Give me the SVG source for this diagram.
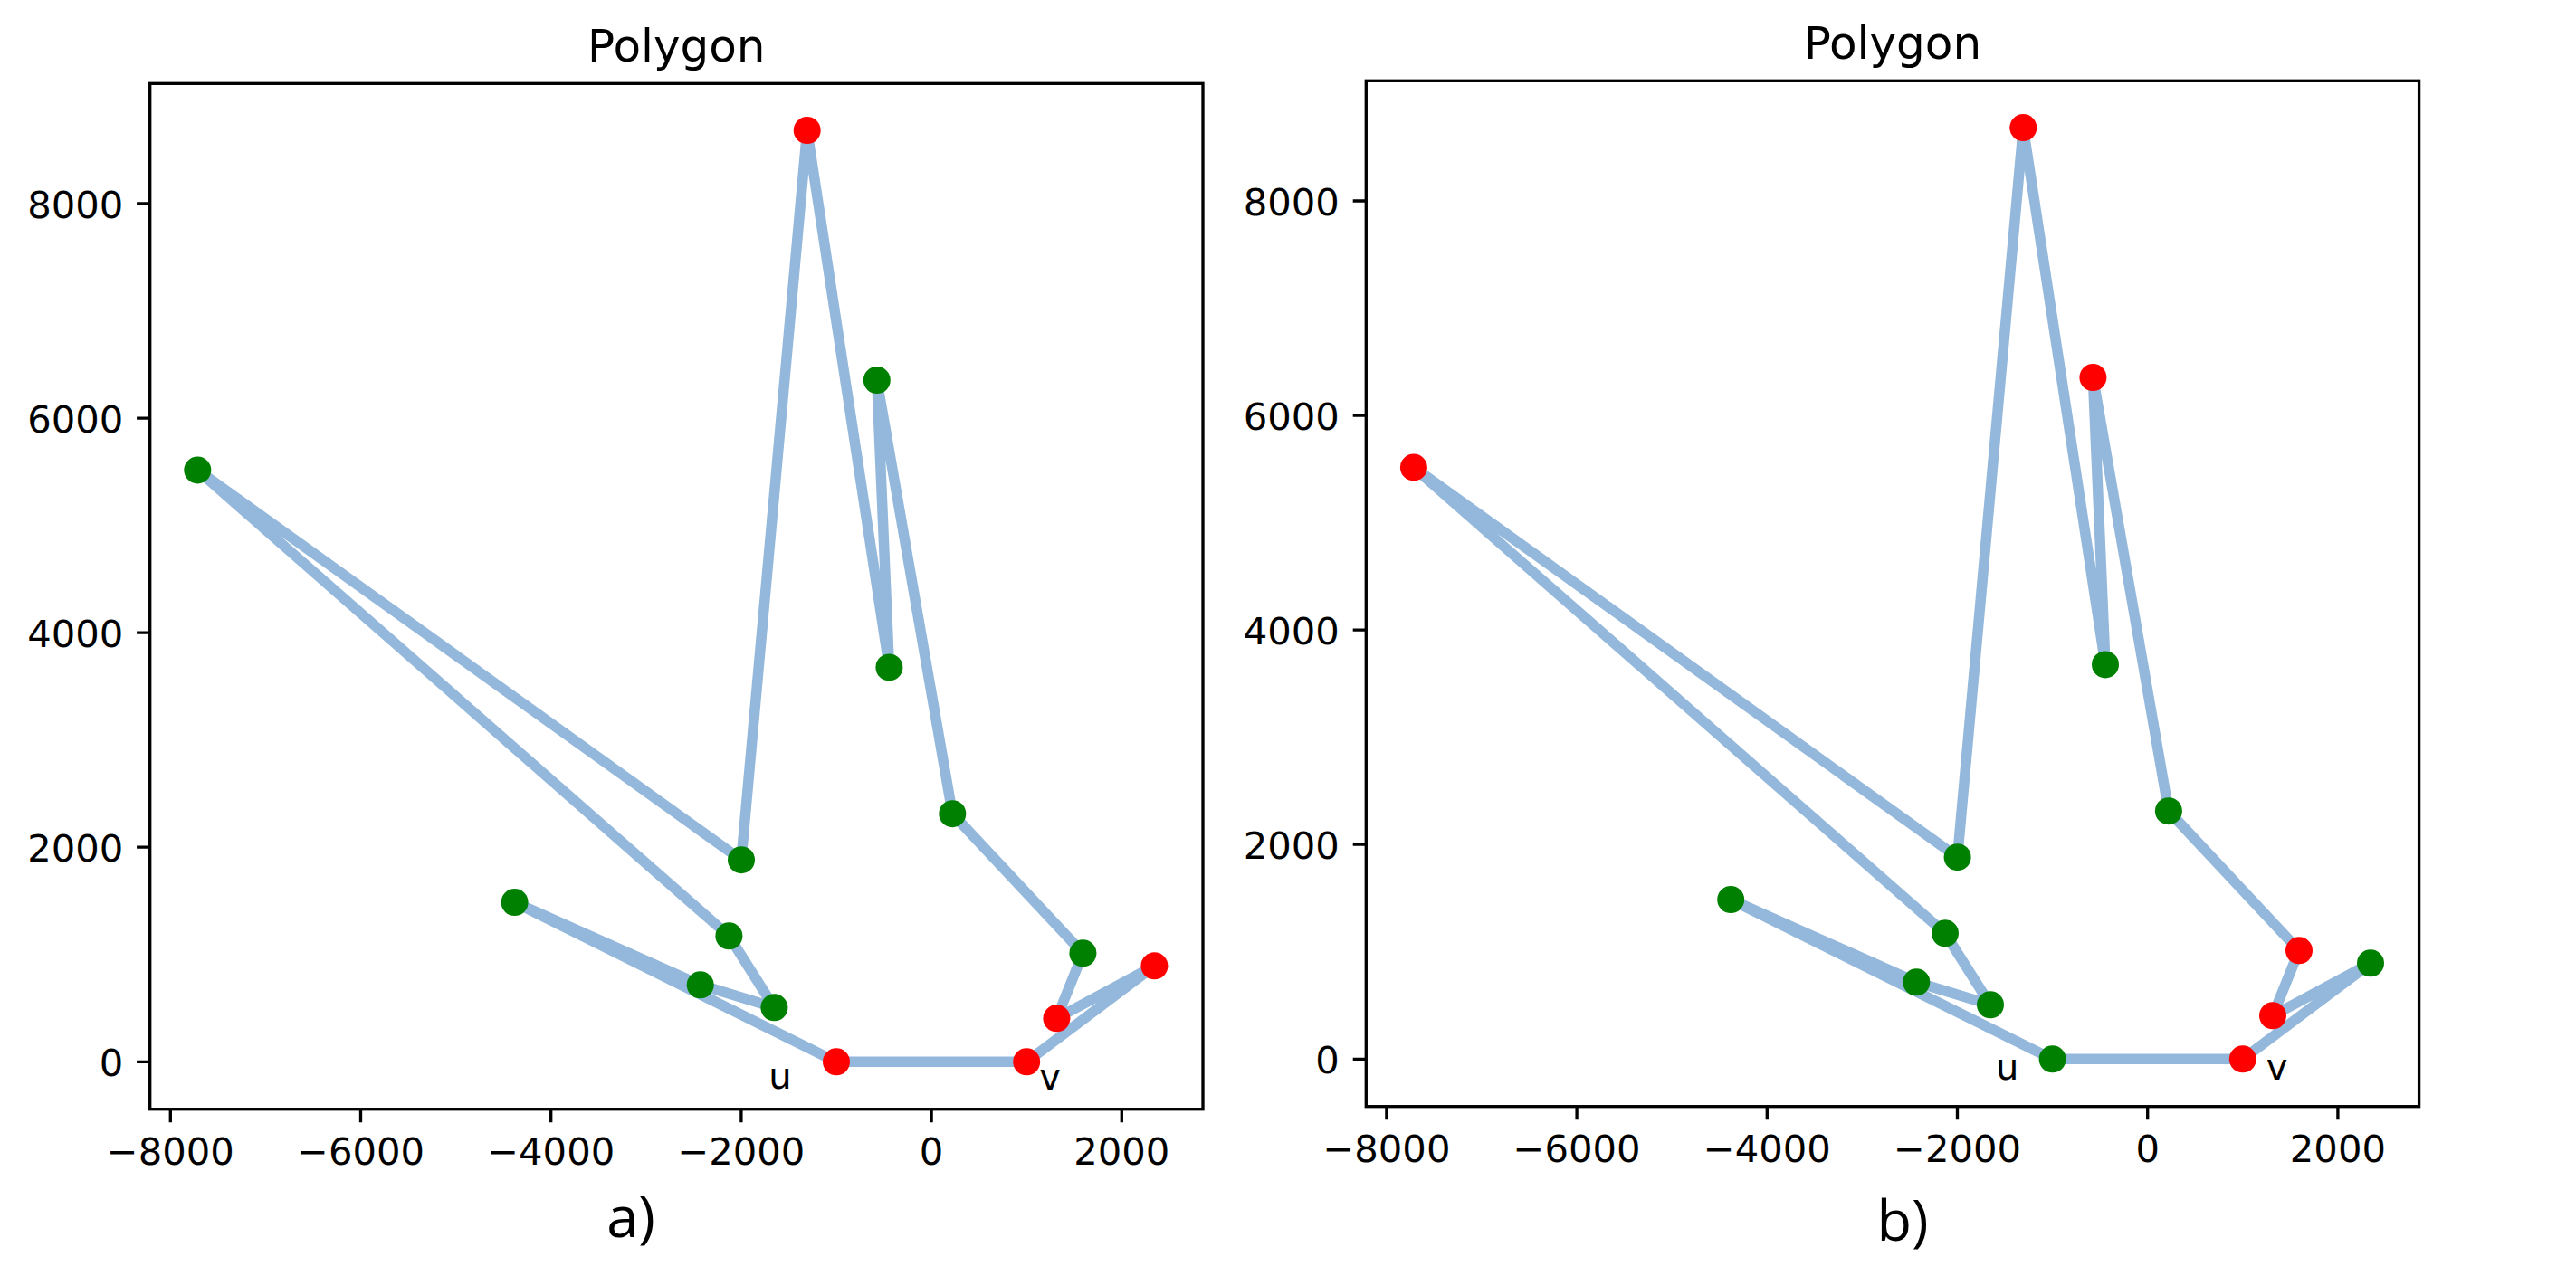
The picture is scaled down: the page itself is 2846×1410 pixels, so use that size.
<svg xmlns="http://www.w3.org/2000/svg" width="2846" height="1410" viewBox="0 0 2846 1410">
<style>
.bg{fill:#ffffff}
.frame{fill:none;stroke:#000;stroke-width:3.33}
.tick{stroke:#000;stroke-width:3.33}
.tl{font-family:"DejaVu Sans",sans-serif;font-size:41.7px;fill:#000}
.tx{text-anchor:middle}
.ty{text-anchor:end}
.title{font-family:"DejaVu Sans",sans-serif;font-size:50px;fill:#000;text-anchor:middle}
.edge{fill:none;stroke:#94b8db;stroke-width:11.5;stroke-linejoin:round;stroke-linecap:round}
.r{fill:#ff0000}
.g{fill:#008000}
.lab{font-family:"DejaVu Sans",sans-serif;font-size:40px;fill:#000;text-anchor:middle}
.cap{font-family:"Open Sans","Noto Sans",sans-serif;font-size:63px;fill:#000;text-anchor:middle}
</style>
<defs>
<g id="axes">
<rect class="frame" x="165.7" y="92.3" width="1163.3" height="1133.4"/>
<path class="tick" d="M188.3 1225.7v14.6M398.5 1225.7v14.6M608.7 1225.7v14.6M818.9 1225.7v14.6M1029.1 1225.7v14.6M1239.3 1225.7v14.6M165.7 1173.3h-14.6M165.7 936.2h-14.6M165.7 699.1h-14.6M165.7 462.1h-14.6M165.7 225h-14.6"/>
<text class="tl tx" x="188.3" y="1286.5">−8000</text>
<text class="tl tx" x="398.5" y="1286.5">−6000</text>
<text class="tl tx" x="608.7" y="1286.5">−4000</text>
<text class="tl tx" x="818.9" y="1286.5">−2000</text>
<text class="tl tx" x="1029.1" y="1286.5">0</text>
<text class="tl tx" x="1239.3" y="1286.5">2000</text>
<text class="tl ty" x="136.3" y="1189.3">0</text>
<text class="tl ty" x="136.3" y="952.2">2000</text>
<text class="tl ty" x="136.3" y="715.1">4000</text>
<text class="tl ty" x="136.3" y="478.1">6000</text>
<text class="tl ty" x="136.3" y="241">8000</text>
<text class="title" x="747.3" y="67.5">Polygon</text>
</g>
</defs>
<rect class="bg" x="0" y="0" width="2846" height="1410"/>

<g id="plot-a">
<use href="#axes"/>
<g id="connectors-a">
<polyline class="edge" points="924,1173.3 1134.2,1173.3 1275.4,1067.3 1167.4,1125.3 1196.4,1053.3 1052.3,899.2 968.8,420.1 982.4,737.4 891.7,144.1 819,950.2 218.3,519.5 805.4,1034.3 855.4,1113.3 773.7,1088.3 568.6,997.1 924,1173.3"/>
</g>
<g id="a-A"><circle class="r" cx="891.7" cy="144.1" r="15"/></g>
<g id="a-B"><circle class="g" cx="968.8" cy="420.1" r="15"/></g>
<g id="a-C"><circle class="g" cx="982.4" cy="737.4" r="15"/></g>
<g id="a-D"><circle class="g" cx="1052.3" cy="899.2" r="15"/></g>
<g id="a-E"><circle class="g" cx="1196.4" cy="1053.3" r="15"/></g>
<g id="a-F"><circle class="r" cx="1275.4" cy="1067.3" r="15"/></g>
<g id="a-G"><circle class="r" cx="1167.4" cy="1125.3" r="15"/></g>
<g id="a-v"><circle class="r" cx="1134.2" cy="1173.3" r="15"/><text class="lab" x="1160" y="1204">v</text></g>
<g id="a-u"><circle class="r" cx="924" cy="1173.3" r="15"/><text class="lab" x="862" y="1203">u</text></g>
<g id="a-H"><circle class="g" cx="855.4" cy="1113.3" r="15"/></g>
<g id="a-I"><circle class="g" cx="773.7" cy="1088.3" r="15"/></g>
<g id="a-J"><circle class="g" cx="568.6" cy="997.1" r="15"/></g>
<g id="a-K"><circle class="g" cx="805.4" cy="1034.3" r="15"/></g>
<g id="a-L"><circle class="g" cx="218.3" cy="519.5" r="15"/></g>
<g id="a-M"><circle class="g" cx="819" cy="950.2" r="15"/></g>
<text class="cap" x="697" y="1367">a)</text>
</g>

<g id="plot-b">
<g transform="translate(1343.6,-3)">
<use href="#axes"/>
<g id="connectors-b">
<polyline class="edge" points="924,1173.3 1134.2,1173.3 1275.4,1067.3 1167.4,1125.3 1196.4,1053.3 1052.3,899.2 968.8,420.1 982.4,737.4 891.7,144.1 819,950.2 218.3,519.5 805.4,1034.3 855.4,1113.3 773.7,1088.3 568.6,997.1 924,1173.3"/>
</g>
<g id="b-A"><circle class="r" cx="891.7" cy="144.1" r="15"/></g>
<g id="b-B"><circle class="r" cx="968.8" cy="420.1" r="15"/></g>
<g id="b-C"><circle class="g" cx="982.4" cy="737.4" r="15"/></g>
<g id="b-D"><circle class="g" cx="1052.3" cy="899.2" r="15"/></g>
<g id="b-E"><circle class="r" cx="1196.4" cy="1053.3" r="15"/></g>
<g id="b-F"><circle class="g" cx="1275.4" cy="1067.3" r="15"/></g>
<g id="b-G"><circle class="r" cx="1167.4" cy="1125.3" r="15"/></g>
<g id="b-v"><circle class="r" cx="1134.2" cy="1173.3" r="15"/><text class="lab" x="1172" y="1195.7">v</text></g>
<g id="b-u"><circle class="g" cx="924" cy="1173.3" r="15"/><text class="lab" x="874" y="1196">u</text></g>
<g id="b-H"><circle class="g" cx="855.4" cy="1113.3" r="15"/></g>
<g id="b-I"><circle class="g" cx="773.7" cy="1088.3" r="15"/></g>
<g id="b-J"><circle class="g" cx="568.6" cy="997.1" r="15"/></g>
<g id="b-K"><circle class="g" cx="805.4" cy="1034.3" r="15"/></g>
<g id="b-L"><circle class="r" cx="218.3" cy="519.5" r="15"/></g>
<g id="b-M"><circle class="g" cx="819" cy="950.2" r="15"/></g>
</g>
<text class="cap" x="2102" y="1371">b)</text>
</g>
</svg>
